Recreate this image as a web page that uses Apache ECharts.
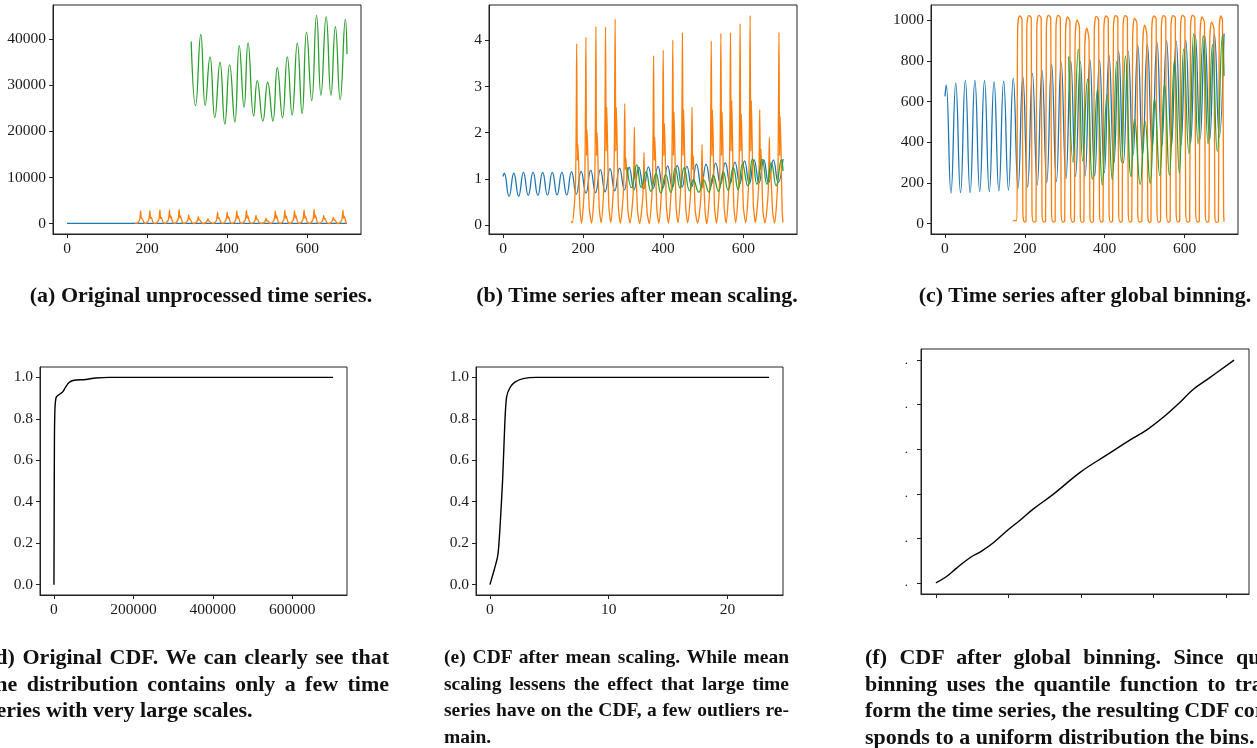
<!DOCTYPE html>
<html>
<head>
<meta charset="utf-8">
<script src="https://cdn.jsdelivr.net/npm/echarts@6/dist/echarts.min.js"></script>
<style>
  html, body { margin:0; padding:0; background:#fff; overflow:hidden; }
  #main { position:absolute; left:0; top:0; width:1257px; height:748px; }
  .cap { position:absolute; font-family:"Liberation Serif","DejaVu Serif",serif; font-weight:bold; color:#111; white-space:nowrap; }
  .top { text-align:center; width:600px; font-size:22px; line-height:24px; }
  .ln { position:absolute; white-space:nowrap; line-height:26.5px; height:26.5px; }
</style>
</head>
<body>
<div id="main"></div>
<div id="caps"></div>
<script>
// ---------------- data ----------------
// time axis ticks
const timeTicks = [0, 200, 400, 600];
const timeTickLabels = ['0', '200', '400', '600'];
const ticksA_Y = [0, 10000, 20000, 30000, 40000];
const ticksA_YLabels = ['0', '10000', '20000', '30000', '40000'];
const ticksB_Y = [0, 1, 2, 3, 4];
const ticksB_YLabels = ['0', '1', '2', '3', '4'];
const ticksC_Y = [0, 200, 400, 600, 800, 1000];
const ticksC_YLabels = ['0', '200', '400', '600', '800', '1000'];
const ticksCdf_Y = [0, 0.2, 0.4, 0.6, 0.8, 1.0];
const ticksCdf_YLabels = ['0.0', '0.2', '0.4', '0.6', '0.8', '1.0'];
const ticksD_X = [0, 200000, 400000, 600000];
const ticksD_XLabels = ['0', '200000', '400000', '600000'];
const ticksE_X = [0, 10, 20];
const ticksE_XLabels = ['0', '10', '20'];
const ticksF_X = [0, 1, 2, 3, 4];
const ticksF_Y = [0, 1, 2, 3, 4, 5];
const ticksF_YLabels = ['.', '.', '.', '.', '.', '.'];

// blue series: start, then peak/trough pairs
const blueX = [0, 3,15, 27,39, 51,63, 75,87, 99,111, 123,135, 147,159, 171,183, 195,207, 219,231,
  243,255, 267,279, 291,303, 315,327, 339,351, 363,375, 387,399, 411,423, 435,447, 459,471, 483,495,
  507,519, 531,543, 555,567, 579,591, 603,615, 627,639, 651,663, 675,687, 699];
const blueXa = [0, 699];
const blueYa = [45, 60];
const blueYb = [1.05, 1.12,0.62, 1.12,0.62, 1.14,0.64, 1.14,0.64, 1.14,0.645, 1.14,0.65, 1.14,0.65,
  1.155,0.67, 1.16,0.69, 1.19,0.70, 1.2,0.72, 1.22,0.74, 1.23,0.76, 1.25,0.76, 1.25,0.78, 1.26,0.79,
  1.27,0.80, 1.28,0.81, 1.29,0.82, 1.27,0.83, 1.32,0.83, 1.32,0.85, 1.34,0.88, 1.35,0.89, 1.36,0.89,
  1.39,0.89, 1.41,0.91, 1.41,0.91, 1.41,0.92, 1.43];
const blueYc = [625, 682,150, 690,152, 705,152, 705,157, 703,157, 697,161, 700,165, 715,174, 723,179,
  738,190, 754,202, 785,207, 795,221, 800,231, 797,234, 808,234, 803,249, 826,295, 847,297, 846,334,
  875,338, 880,366, 892,382, 900,377, 897,384, 903,395, 926,415, 921,411, 931,426, 934];

// orange series (panels a and b share the time points)
const orangeX = [170,
  173,181,184,185.5,187,192,  196,204,207,208.5,210,215,  221,229,232,233.5,235,240,
  245,253,256,257.5,259,264,  269,277,280,281.5,283,288,  293,301,304,305.5,307,312,
  317,325,328,329.5,331,336,  341,349,352,353.5,355,360,  365,373,376,377.5,379,384,
  389,397,400,401.5,403,408,  413,421,424,425.5,427,432,  437,445,448,449.5,451,456,
  461,469,472,473.5,475,480,  486,494,497,498.5,500,505,  509,517,520,521.5,523,528,
  533,541,544,545.5,547,552,  557,565,568,569.5,571,576,  581,589,592,593.5,595,600,
  606,614,617,618.5,620,625,  630,638,641,642.5,644,649,  654,662,665,666.5,668,673,
  678,686,689,690.5,692,697,
  699];
const orangeYa = [50,
  30,750,2750,1100,1200,250,  30,800,2800,1150,1400,280,  30,800,3000,1150,1400,280,
  35,850,3000,1200,1750,300,  35,850,3100,1200,1750,280,  30,600,1900,900,1000,210,
  30,550,1500,750,850,210,    25,450,1100,600,650,180,    25,700,2500,1100,1300,250,
  30,800,2500,1150,1500,280,  30,800,2750,1150,1700,280,  35,850,2900,1150,1750,280,
  35,600,1800,900,1050,210,   30,450,1200,600,700,180,    25,800,2750,1150,1750,280,
  30,800,2900,1150,1700,280,  30,850,2800,1200,1850,300,  35,850,3000,1200,1650,280,
  35,850,3100,1200,1850,300,  35,600,1800,900,1150,210,   30,550,1400,750,850,210,
  30,800,2900,1150,1600,210,
  40];
const orangeYb = [0.08,
  0.05,0.9,3.93,1.4,1.75,0.35,  0.04,1.0,4.07,1.5,2.05,0.4,  0.04,1.0,4.30,1.5,2.0,0.4,
  0.05,1.1,4.29,1.6,2.55,0.45,  0.05,1.1,4.46,1.6,2.55,0.4,  0.04,0.8,2.63,1.2,1.45,0.3,
  0.04,0.7,2.12,1.0,1.25,0.3,   0.03,0.6,1.57,0.8,0.95,0.25, 0.03,0.9,3.67,1.4,1.9,0.35,
  0.04,1.0,3.79,1.5,2.2,0.4,    0.04,1.0,4.01,1.5,2.45,0.4,  0.05,1.1,4.17,1.5,2.5,0.4,
  0.05,0.8,2.56,1.2,1.5,0.3,    0.04,0.6,1.74,0.8,1.05,0.25, 0.03,1.0,3.99,1.5,2.5,0.4,
  0.04,1.0,4.15,1.5,2.45,0.4,   0.04,1.1,4.17,1.6,2.7,0.45,  0.05,1.1,4.36,1.6,2.4,0.4,
  0.05,1.1,4.54,1.6,2.7,0.45,   0.05,0.8,2.50,1.2,1.65,0.3,  0.04,0.7,1.90,1.0,1.2,0.3,
  0.04,1.0,4.18,1.5,2.35,0.3,
  0.05];
// orange series after global binning (panel c)
const orangeXc = [170,
  180,182,187,193,195,199,  203,205,210,216,218,222,  228,230,235,241,243,247,
  252,254,259,265,267,271,  276,278,283,289,291,295,  300,302,307,313,315,319,
  324,326,331,337,339,343,  348,350,355,361,363,367,  372,374,379,385,387,391,
  396,398,403,409,411,415,  420,422,427,433,435,439,  444,446,451,457,459,463,
  468,470,475,481,483,487,  493,495,500,506,508,512,  516,518,523,529,531,535,
  540,542,547,553,555,559,  564,566,571,577,579,583,  588,590,595,601,603,607,
  613,615,620,626,628,632,  637,639,644,650,652,656,  661,663,668,674,676,680,
  685,687,691,695,698,699];
const orangeYc = [15,
  15,950,1020,1005,60,8,   12,960,1022,1010,60,8,   12,960,1023,1010,60,8,
  12,960,1023,1010,60,8,   12,960,1023,1010,60,8,   12,930,1015,990,50,8,
  10,900,1000,960,40,6,    10,850,960,900,40,6,     10,940,1018,1000,60,8,
  12,950,1020,1005,60,8,   12,960,1022,1010,60,8,   12,960,1022,1010,60,8,
  12,900,1010,980,50,8,    10,850,975,920,40,6,     10,950,1020,1005,60,8,
  12,960,1022,1010,60,8,   12,960,1022,1010,60,8,   12,960,1023,1010,60,8,
  12,960,1023,1010,60,8,   12,920,1015,985,50,8,    10,880,990,950,40,6,
  10,950,1020,1000,60,10];

// green series: start, trough/peak pairs, end
const greenX = [310, 321,334, 345,357, 369,382, 394,406, 419,430, 442,452, 466,475, 489,501,
  514,525, 538,550, 562,575, 587,598, 611,623, 634,647, 659,670, 682,695, 699];
const greenYa = [39500, 25580,41000, 25650,36150, 22970,35000, 21590,34400, 22030,38600, 25290,39200,
  23330,31000, 22250,30650, 22250,33800, 22970,36150, 23550,39130, 23840,41500, 26670,45150,
  27830,44850, 27830,42680, 26880,44275, 36800];
const greenYb = [1.25, 0.81,1.30, 0.81,1.15, 0.73,1.11, 0.69,1.09, 0.70,1.23, 0.80,1.24, 0.74,0.98,
  0.71,0.97, 0.71,1.07, 0.73,1.15, 0.75,1.24, 0.76,1.32, 0.85,1.43, 0.88,1.42, 0.88,1.35, 0.85,1.41, 1.17];
const greenYc = [821, 302,857, 308,710, 218,660, 190,636, 215,797, 302,824, 231,513, 193,502, 198,613,
  236,687, 239,805, 248,857, 343,933, 392,923, 392,879, 354,925, 726];

// CDFs
const cdfDX = [0, 500, 1200, 2500, 5000, 8000, 15000, 22000, 30000, 38000, 48000, 80000, 105000, 140000, 702500];
const cdfDY = [0, 0.3, 0.7, 0.85, 0.9, 0.91, 0.92, 0.93, 0.955, 0.975, 0.985, 0.99, 0.997, 1.0, 1.0];
const cdfEX = [0, 0.65, 0.84, 1.07, 1.26, 1.4, 1.68, 2.1, 2.8, 3.9, 23.5];
const cdfEY = [0, 0.137, 0.27, 0.51, 0.79, 0.905, 0.95, 0.977, 0.994, 1.0, 1.0];
const cdfFX = [0, 0.147, 0.285, 0.469, 0.63, 0.792, 0.976, 1.16, 1.344, 1.62, 1.988, 2.356, 2.678, 2.908, 3.138, 3.369, 3.553, 3.737, 4.11];
const cdfFY = [0, 0.143, 0.331, 0.564, 0.714, 0.902, 1.165, 1.406, 1.662, 1.992, 2.481, 2.872, 3.211, 3.436, 3.722, 4.06, 4.353, 4.564, 5.0];

// captions
const capTop = [
  {text: '(a) Original unprocessed time series.', cx: 201},
  {text: '(b) Time series after mean scaling.', cx: 637},
  {text: '(c) Time series after global binning.', cx: 1085}
];
const capBottom = [
  {left: -12, width: 401, size: 22, lines: ['(d) Original CDF. We can clearly see that', 'the distribution contains only a few time', 'series with very large scales.']},
  {left: 444, width: 345, size: 19.5, lines: ['(e) CDF after mean scaling. While mean', 'scaling lessens the effect that large time', 'series have on the CDF, a few outliers re-', 'main.']},
  {left: 865, width: 426, size: 22, lines: ['(f) CDF after global binning. Since quan-', 'binning uses the quantile function to trans-', 'form the time series, the resulting CDF corre-', 'sponds to a uniform distribution the bins.']}
];

// ---------------- chart ----------------
const FONT = '"Liberation Serif","DejaVu Serif",serif';
const BLUE = '#1f77b4', ORANGE = '#ff7f0e', GREEN = '#2ca02c';
const zip = (xs, ys) => xs.map((x, i) => [x, ys[i]]);

function grid(l, t, w, h) {
  return {left: l, top: t, width: w, height: h, show: true, borderColor: '#222', borderWidth: 1, containLabel: false};
}
function axis(kind, gi, min, max, ticks, labels, opts) {
  opts = opts || {};
  return {
    type: 'value', gridIndex: gi, min: min, max: max,
    axisLine: {show: true, onZero: false, lineStyle: {color: '#222', width: 1}},
    splitLine: {show: false},
    axisTick: {show: true, inside: false, length: 4, lineStyle: {color: '#222', width: 1}, customValues: ticks},
    axisLabel: {
      show: labels != null, customValues: ticks, hideOverlap: false,
      margin: opts.margin || 7, fontFamily: FONT, fontSize: opts.fontSize || 15.5, color: '#1a1a1a',
      formatter: function (v) { const i = ticks.indexOf(v); return (labels && i >= 0) ? labels[i] : ''; }
    }
  };
}
function line(gi, data, color, smooth, width) {
  return {type: 'line', xAxisIndex: gi, yAxisIndex: gi, data: data, showSymbol: false, symbol: 'none',
    smooth: smooth, lineStyle: {color: color, width: width || 1.3}, itemStyle: {color: color},
    animation: false, silent: true, clip: true};
}

const option = {
  animation: false,
  backgroundColor: '#fff',
  grid: [
    grid(53, 5, 308, 229),
    grid(489, 5, 308, 229),
    grid(931, 5, 307, 229),
    grid(40, 367, 307, 228),
    grid(476, 367, 307, 228),
    grid(921, 349, 328, 245)
  ],
  xAxis: [
    axis('x', 0, -35, 734, timeTicks, timeTickLabels),
    axis('x', 1, -35, 734, timeTicks, timeTickLabels),
    axis('x', 2, -35, 734, timeTicks, timeTickLabels),
    axis('x', 3, -35125, 737625, ticksD_X, ticksD_XLabels),
    axis('x', 4, -1.175, 24.675, ticksE_X, ticksE_XLabels),
    axis('x', 5, -0.2055, 4.3155, ticksF_X, null)
  ],
  yAxis: [
    axis('y', 0, -2250, 47400, ticksA_Y, ticksA_YLabels),
    axis('y', 1, -0.196, 4.766, ticksB_Y, ticksB_YLabels),
    axis('y', 2, -51, 1074, ticksC_Y, ticksC_YLabels),
    axis('y', 3, -0.05, 1.05, ticksCdf_Y, ticksCdf_YLabels),
    axis('y', 4, -0.05, 1.05, ticksCdf_Y, ticksCdf_YLabels),
    axis('y', 5, -0.25, 5.25, ticksF_Y, ticksF_YLabels, {margin: 13, fontSize: 13})
  ],
  series: [
    line(0, zip(blueXa, blueYa), BLUE, false),
    line(0, zip(orangeX, orangeYa), ORANGE, 0.25),
    line(0, zip(greenX, greenYa), GREEN, 0.5),
    line(1, zip(blueX, blueYb), BLUE, 0.5),
    line(1, zip(orangeX, orangeYb), ORANGE, 0.25),
    line(1, zip(greenX, greenYb), GREEN, 0.5),
    line(2, zip(blueX, blueYc), BLUE, 0.5),
    line(2, zip(orangeXc, orangeYc), ORANGE, 0.35),
    line(2, zip(greenX, greenYc), GREEN, 0.5),
    line(3, zip(cdfDX, cdfDY), '#000', 0.3, 1.4),
    line(4, zip(cdfEX, cdfEY), '#000', 0.2, 1.4),
    line(5, zip(cdfFX, cdfFY), '#000', 0.4, 1.4)
  ]
};
const chart = echarts.init(document.getElementById('main'), null, {renderer: 'canvas'});
chart.setOption(option);

// ---------------- captions ----------------
const caps = document.getElementById('caps');
capTop.forEach(c => {
  const d = document.createElement('div');
  d.className = 'cap top';
  d.style.left = (c.cx - 300) + 'px';
  d.style.top = '283px';
  d.textContent = c.text;
  caps.appendChild(d);
});
capBottom.forEach(c => {
  c.lines.forEach((t, i) => {
    const d = document.createElement('div');
    d.className = 'cap ln';
    d.style.left = c.left + 'px';
    d.style.top = (644 + i * 26.5) + 'px';
    d.style.fontSize = c.size + 'px';
    const s = document.createElement('span');
    s.textContent = t;
    d.appendChild(s);
    caps.appendChild(d);
    if (i < c.lines.length - 1) {
      const natural = s.getBoundingClientRect().width;
      const n = (t.match(/ /g) || []).length;
      if (n > 0) s.style.wordSpacing = ((c.width - natural) / n) + 'px';
    }
  });
});
</script>
</body>
</html>
